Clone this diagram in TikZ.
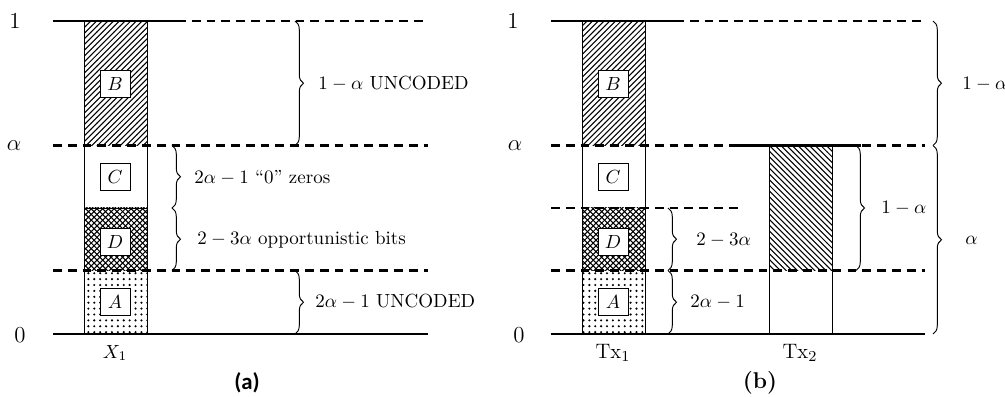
\documentclass[tikz,border=0pt]{standalone}
\usepackage{fontspec}
\newfontfamily\capfont{Carlito}
\usetikzlibrary{patterns,decorations.pathreplacing}

% slightly heavier fill patterns
\pgfdeclarepatternformonly{neline}{\pgfqpoint{-1pt}{-1pt}}{\pgfqpoint{4pt}{4pt}}{\pgfqpoint{3pt}{3pt}}{%
  \pgfsetlinewidth{0.55pt}%
  \pgfpathmoveto{\pgfqpoint{0pt}{0pt}}%
  \pgfpathlineto{\pgfqpoint{3.1pt}{3.1pt}}%
  \pgfusepath{stroke}}
\pgfdeclarepatternformonly{nwline}{\pgfqpoint{-1pt}{-1pt}}{\pgfqpoint{4pt}{4pt}}{\pgfqpoint{3pt}{3pt}}{%
  \pgfsetlinewidth{0.55pt}%
  \pgfpathmoveto{\pgfqpoint{0pt}{3pt}}%
  \pgfpathlineto{\pgfqpoint{3.1pt}{-0.1pt}}%
  \pgfusepath{stroke}}
\pgfdeclarepatternformonly{xhatch}{\pgfqpoint{-1pt}{-1pt}}{\pgfqpoint{4pt}{4pt}}{\pgfqpoint{3pt}{3pt}}{%
  \pgfsetlinewidth{0.55pt}%
  \pgfpathmoveto{\pgfqpoint{0pt}{0pt}}%
  \pgfpathlineto{\pgfqpoint{3.1pt}{3.1pt}}%
  \pgfpathmoveto{\pgfqpoint{0pt}{3pt}}%
  \pgfpathlineto{\pgfqpoint{3.1pt}{-0.1pt}}%
  \pgfusepath{stroke}}
\pgfdeclarepatternformonly{bigdots}{\pgfqpoint{-1pt}{-1pt}}{\pgfqpoint{1pt}{1pt}}{\pgfqpoint{3.1pt}{3.1pt}}{%
  \pgfpathcircle{\pgfqpoint{0pt}{0pt}}{0.62pt}%
  \pgfusepath{fill}}

\tikzset{
  solidlevel/.style={line width=1.2pt},
  dashlevel/.style={line width=1.2pt, dash pattern=on 4.6pt off 3.2pt},
  colframe/.style={draw, line width=0.5pt},
  tagbox/.style={draw, fill=white, line width=0.5pt, minimum width=15.8pt,
                 minimum height=14.2pt, inner sep=0pt},
  bracket/.style={decorate, decoration={brace, amplitude=4.5pt}, line width=0.5pt},
  sidetext/.style={anchor=west, inner sep=0pt},
  axistext/.style={inner sep=0pt, font=\large},
  txtext/.style={inner sep=0pt, font=\fontsize{11}{13}\selectfont},
}

\begin{document}
\begin{tikzpicture}[x=0.526pt, y=-0.526pt]
\useasboundingbox (0,0) rectangle (1005,397);

% ---------------- panel (a) ----------------
% stacked signal levels of X_1
\fill[pattern=neline] (84,21) rectangle (147,145.5);
\fill[pattern=xhatch] (84,208) rectangle (147,270.5);
\fill[pattern=bigdots] (84,270.5) rectangle (147,334);
\draw[colframe] (84,21) rectangle (147,334);
\draw[colframe] (84,208) -- (147,208);

% level lines
\coordinate (a1L) at (53,21);   \coordinate (a1M) at (177,21); \coordinate (a1R) at (428,21);
\coordinate (aaL) at (53,145.5); \coordinate (aaR) at (428,145.5);
\coordinate (adL) at (53,270.5); \coordinate (adR) at (428,270.5);
\coordinate (a0L) at (53,334);  \coordinate (a0R) at (428,334);
\draw[dashlevel] (a1M) -- (a1R);
\draw[solidlevel] (a1L) -- (a1M);
\draw[dashlevel] (aaL) -- (aaR);
\draw[dashlevel] (adL) -- (adR);
\draw[solidlevel] (a0L) -- (a0R);

% block tags
\node[tagbox] (aB) at (115,84) {$B$};
\node[tagbox] (aC) at (115,177) {$C$};
\node[tagbox] (aD) at (115,242) {$D$};
\node[tagbox] (aA) at (115,302) {$A$};

% axis labels
\node[axistext] (a1) at (15,21) {$1$};
\node[axistext] (aal) at (14,145.5) {$\alpha$};
\node[axistext] (a0) at (20,335) {$0$};
\node[inner sep=0pt] (aX) at (115,353) {$X_1$};

% braces
\coordinate (abr1t) at (295,21);   \coordinate (abr1b) at (295,145.5);
\coordinate (abr2t) at (172,145.5); \coordinate (abr2b) at (172,208);
\coordinate (abr3t) at (172,208);  \coordinate (abr3b) at (172,270.5);
\coordinate (abr4t) at (295,270.5); \coordinate (abr4b) at (295,334);
\draw[bracket] (abr1t) -- (abr1b);
\draw[bracket] (abr2t) -- (abr2b);
\draw[bracket] (abr3t) -- (abr3b);
\draw[bracket] (abr4t) -- (abr4b);
\node[sidetext] (at1) at (318,84) {$1-\alpha$ UNCODED};
\node[sidetext] (at2) at (194,178) {$2\alpha-1$ ``0'' zeros};
\node[sidetext] (at3) at (197,240) {$2-3\alpha$ opportunistic bits};
\node[sidetext] (at4) at (315,302) {$2\alpha-1$ UNCODED};

\node (capa) at (247,383) {\capfont\fontsize{12}{14}\selectfont\bfseries (a)};

% ---------------- panel (b) ----------------
% transmitter 1
\fill[pattern=neline] (582,21) rectangle (645,145.5);
\fill[pattern=xhatch] (582,208) rectangle (645,270.5);
\fill[pattern=bigdots] (582,270.5) rectangle (645,334);
\draw[colframe] (582,21) rectangle (645,334);
% transmitter 2
\fill[pattern=nwline] (769,145.5) rectangle (832,270.5);
\draw[colframe] (769,145.5) -- (769,334);
\draw[colframe] (832,145.5) -- (832,334);

% level lines
\coordinate (b1L) at (551,21);   \coordinate (b1M) at (675,21); \coordinate (b1R) at (925,21);
\coordinate (baL) at (551,145.5); \coordinate (baR) at (925,145.5);
\coordinate (bt2L) at (735,145.5); \coordinate (bt2R) at (861,145.5);
\coordinate (bcL) at (551,208);  \coordinate (bcR) at (738,208);
\coordinate (bdL) at (551,270.5); \coordinate (bdR) at (925,270.5);
\coordinate (b0L) at (551,334);  \coordinate (b0R) at (925,334);
\draw[dashlevel] (b1M) -- (b1R);
\draw[solidlevel] (b1L) -- (b1M);
\draw[dashlevel] (baL) -- (baR);
\draw[solidlevel] (bt2L) -- (bt2R);
\draw[dashlevel] (bcL) -- (bcR);
\draw[dashlevel] (bdL) -- (bdR);
\draw[solidlevel] (b0L) -- (b0R);

% block tags
\node[tagbox] (bB) at (613,84) {$B$};
\node[tagbox] (bC) at (613,177) {$C$};
\node[tagbox] (bD) at (613,242) {$D$};
\node[tagbox] (bA) at (613,302) {$A$};

% axis labels
\node[axistext] (b1) at (513,21) {$1$};
\node[axistext] (bal) at (515,145.5) {$\alpha$};
\node[axistext] (b0) at (519,335) {$0$};
\node[txtext] (bT1) at (613,353) {$\mathrm{Tx}_1$};
\node[txtext] (bT2) at (800,353) {$\mathrm{Tx}_2$};

% braces
\coordinate (bbr1t) at (668,208);  \coordinate (bbr1b) at (668,270.5);
\coordinate (bbr2t) at (668,270.5); \coordinate (bbr2b) at (668,334);
\coordinate (bbr3t) at (856,145.5); \coordinate (bbr3b) at (856,270.5);
\coordinate (bbr4t) at (933,21);   \coordinate (bbr4b) at (933,145.5);
\coordinate (bbr5t) at (933,145.5); \coordinate (bbr5b) at (933,334);
\draw[bracket] (bbr1t) -- (bbr1b);
\draw[bracket] (bbr2t) -- (bbr2b);
\draw[bracket] (bbr3t) -- (bbr3b);
\draw[bracket] (bbr4t) -- (bbr4b);
\draw[bracket] (bbr5t) -- (bbr5b);
\node[sidetext] (bt1) at (696,240) {$2-3\alpha$};
\node[sidetext] (bt2) at (690,302) {$2\alpha-1$};
\node[sidetext] (bt3) at (881,208) {$1-\alpha$};
\node[sidetext] (bt4) at (962,84) {$1-\alpha$};
\node[sidetext] (bt5) at (965,240) {$\alpha$};

\node (capb) at (760,383) {\fontsize{12}{14}\selectfont\bfseries (b)};
\end{tikzpicture}
\end{document}
